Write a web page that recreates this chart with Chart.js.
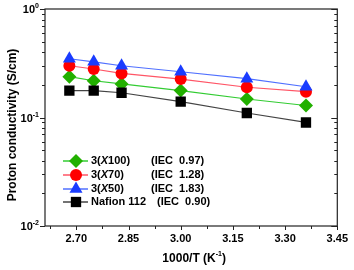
<!DOCTYPE html>
<html><head><meta charset="utf-8">
<script src="https://cdn.jsdelivr.net/npm/chart.js@4/dist/chart.umd.min.js"></script>
<style>html,body{margin:0;padding:0;background:#fff}#w{width:354px;height:270px}</style>
</head><body><div id="w"><canvas id="c" width="354" height="270"></canvas></div>
<script>
const invT = [2.68, 2.75, 2.83, 3.00, 3.19, 3.36];
const x100 = [0.238, 0.218, 0.204, 0.177, 0.148, 0.129];
const x70 = [0.300, 0.280, 0.255, 0.226, 0.190, 0.173];
const x50 = [0.348, 0.326, 0.300, 0.264, 0.228, 0.192];
const nafion = [0.177, 0.177, 0.169, 0.140, 0.110, 0.090];
const xTicks = [2.70, 2.85, 3.00, 3.15, 3.30, 3.45];
const yTicks = [0.01, 0.1, 1];
const yTickExp = ['-2', '-1', '0'];
const legendNames = [['3(', 'X', '100)'], ['3(', 'X', '70)'], ['3(', 'X', '50)'], ['Nafion 112', '', '']];
const legendIEC = ['(IEC  0.97)', '(IEC  1.28)', '(IEC  1.83)', '(IEC  0.90)'];

const FONT = "'Liberation Sans', Arial, sans-serif";
const styles = [
  {fill: '#22b000', line: '#33cc33', shape: 'diamond'},
  {fill: '#ff0000', line: '#ff5566', shape: 'circle'},
  {fill: '#1a3cff', line: '#5070ff', shape: 'triangle'},
  {fill: '#000000', line: '#444444', shape: 'square'}
];
const seriesVals = [x100, x70, x50, nafion];
const chartStyle = {diamond: 'rectRot', circle: 'circle', triangle: 'triangle', square: 'rect'};
const radii = {diamond: 7, circle: 6, triangle: 7.5, square: 7.3};

function marker(ctx, shape, x, y, color) {
  ctx.fillStyle = color;
  ctx.beginPath();
  const r = radii[shape];
  if (shape === 'diamond') { ctx.moveTo(x - r, y); ctx.lineTo(x, y - r); ctx.lineTo(x + r, y); ctx.lineTo(x, y + r); ctx.closePath(); }
  else if (shape === 'circle') { ctx.arc(x, y, r, 0, Math.PI * 2); }
  else if (shape === 'triangle') { ctx.moveTo(x, y - r); ctx.lineTo(x + r * 0.866, y + r * 0.5); ctx.lineTo(x - r * 0.866, y + r * 0.5); ctx.closePath(); }
  else { const s = r * Math.SQRT1_2; ctx.rect(x - s, y - s, 2 * s, 2 * s); }
  ctx.fill();
}

const datasets = seriesVals.map((vals, i) => ({
  data: invT.map((x, j) => ({x: x, y: vals[j]})),
  borderColor: styles[i].line,
  borderWidth: 1.2,
  backgroundColor: styles[i].fill,
  pointBackgroundColor: styles[i].fill,
  pointBorderColor: styles[i].fill,
  pointBorderWidth: 0,
  pointStyle: chartStyle[styles[i].shape],
  pointRadius: radii[styles[i].shape],
  tension: 0,
  order: 3 - i
}));

const deco = {
  id: 'deco',
  afterDraw(chart) {
    const ctx = chart.ctx, a = chart.chartArea;
    const xs = chart.scales.x, ys = chart.scales.y;
    ctx.save();
    ctx.strokeStyle = '#222';
    ctx.lineWidth = 1.2;
    ctx.strokeRect(a.left, a.top, a.right - a.left, a.bottom - a.top);
    ctx.lineWidth = 1;
    ctx.beginPath();
    // x ticks (outward)
    for (let v = 2.625; v <= 3.451; v += 0.075) {
      const px = Math.round(xs.getPixelForValue(v)) + 0.5;
      const major = xTicks.some(t => Math.abs(t - v) < 1e-6);
      ctx.moveTo(px, a.bottom); ctx.lineTo(px, a.bottom + (major ? 4 : 3));
    }
    // y ticks: left outward, right inward
    for (let d = 0.01; d < 1.01; d *= 10) {
      for (let m = 1; m <= 9; m++) {
        const v = d * m;
        if (v > 1.0001) break;
        const py = Math.round(ys.getPixelForValue(v)) + 0.5;
        const len = m === 1 ? 5 : 3;
        ctx.moveTo(a.left, py); ctx.lineTo(a.left - len, py);
        ctx.moveTo(a.right, py); ctx.lineTo(a.right - len - (m === 1 ? 1 : 0), py);
      }
    }
    ctx.stroke();
    // y tick labels
    ctx.fillStyle = '#000';
    yTicks.forEach((v, i) => {
      const py = ys.getPixelForValue(v);
      ctx.font = 'bold 7px ' + FONT;
      ctx.textBaseline = 'alphabetic';
      ctx.textAlign = 'left';
      const ew = ctx.measureText(yTickExp[i]).width;
      const ex = 39 - ew;
      ctx.fillText(yTickExp[i], ex, py - 1);
      ctx.font = 'bold 11px ' + FONT;
      ctx.textAlign = 'right';
      ctx.fillText('10', ex, py + 4);
    });
    // y title
    ctx.save();
    ctx.translate(16, 125);
    ctx.rotate(-Math.PI / 2);
    ctx.font = 'bold 12px ' + FONT;
    ctx.textAlign = 'center';
    ctx.textBaseline = 'alphabetic';
    ctx.fillText('Proton conductivity (S/cm)', 0, 0);
    ctx.restore();
    // x title
    ctx.font = 'bold 12px ' + FONT;
    ctx.textAlign = 'left';
    ctx.textBaseline = 'alphabetic';
    const t1 = '1000/T (K', t2 = '-1', t3 = ')';
    const w1 = ctx.measureText(t1).width, w3 = ctx.measureText(t3).width;
    ctx.font = 'bold 7px ' + FONT;
    const w2 = ctx.measureText(t2).width;
    let x0 = (a.left + a.right) / 2 - (w1 + w2 + w3) / 2 + 3;
    const by = 262;
    ctx.font = 'bold 12px ' + FONT;
    ctx.fillText(t1, x0, by);
    ctx.font = 'bold 7px ' + FONT;
    ctx.fillText(t2, x0 + w1, by - 6);
    ctx.font = 'bold 12px ' + FONT;
    ctx.fillText(t3, x0 + w1 + w2, by);
    // legend
    const rows = [161, 175, 189, 202];
    rows.forEach((ry, i) => {
      ctx.strokeStyle = styles[i].line;
      ctx.lineWidth = 1.5;
      ctx.beginPath(); ctx.moveTo(63, ry); ctx.lineTo(88, ry); ctx.stroke();
      marker(ctx, styles[i].shape, 76, ry, styles[i].fill);
      ctx.fillStyle = '#000';
      ctx.textBaseline = 'middle';
      ctx.textAlign = 'left';
      let tx = 91;
      const parts = legendNames[i];
      ctx.font = 'bold 11px ' + FONT; ctx.fillText(parts[0], tx, ry); tx += ctx.measureText(parts[0]).width;
      if (parts[1]) { ctx.font = 'italic bold 11px ' + FONT; ctx.fillText(parts[1], tx, ry); tx += ctx.measureText(parts[1]).width; }
      ctx.font = 'bold 11px ' + FONT; ctx.fillText(parts[2], tx, ry);
      ctx.fillText(legendIEC[i], i === 3 ? 157 : 151, ry);
    });
    ctx.restore();
  }
};

new Chart(document.getElementById('c'), {
  type: 'line',
  data: {datasets: datasets},
  options: {
    responsive: false,
    animation: false,
    events: [],
    layout: {padding: {top: 9, right: 12, left: 0, bottom: 0}},
    plugins: {legend: {display: false}, tooltip: {enabled: false}},
    scales: {
      x: {
        type: 'linear', min: 2.61, max: 3.45,
        afterBuildTicks(s) { s.ticks = xTicks.map(v => ({value: v})); },
        afterFit(s) { s.height = 44; },
        grid: {display: true, drawOnChartArea: false, drawTicks: false},
        border: {display: false},
        ticks: {padding: 6, color: '#000', font: {family: FONT, size: 11, weight: 'bold'}, maxRotation: 0, autoSkip: false,
          callback: v => Number(v).toFixed(2)}
      },
      y: {
        type: 'logarithmic', min: 0.01, max: 1,
        afterBuildTicks(s) { s.ticks = yTicks.map(v => ({value: v})); },
        afterFit(s) { s.width = 45; },
        grid: {display: true, drawOnChartArea: false, drawTicks: false},
        border: {display: false},
        ticks: {display: false}
      }
    }
  },
  plugins: [deco]
});
</script></body></html>
